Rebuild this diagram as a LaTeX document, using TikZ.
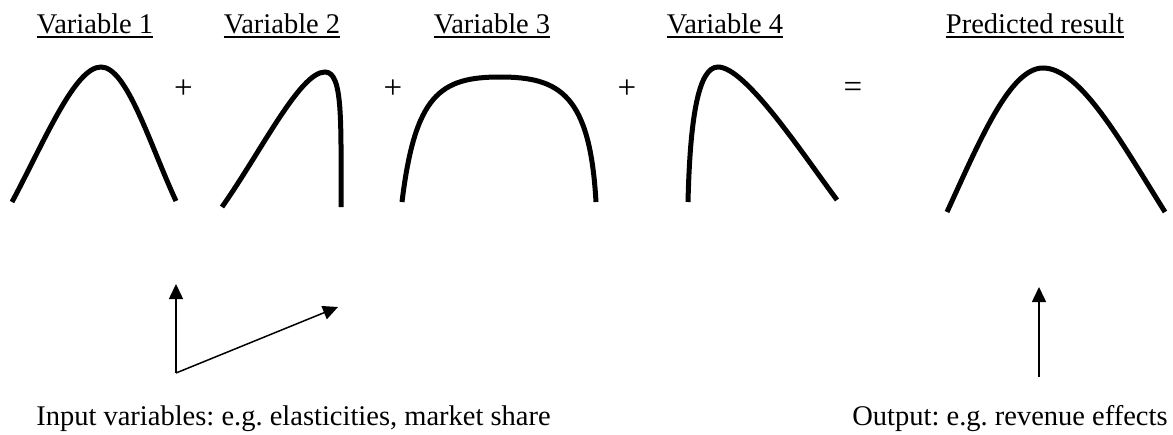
\documentclass[tikz,border=0pt]{standalone}
\usepackage{fontspec}
\setmainfont{Liberation Serif}
\usetikzlibrary{arrows.meta}
\frenchspacing
\begin{document}
\begin{tikzpicture}[x=1pt,y=-1pt,
  lbl/.style={font=\fontsize{28.5}{34}\selectfont, inner sep=0pt, anchor=base},
  op/.style={font=\fontsize{33}{38}\selectfont, inner sep=0pt},
  curve/.style={line width=5pt, line cap=butt},
  uline/.style={line width=1.6pt},
  ptr/.style={line width=1.5pt, -{Triangle[length=15pt,width=14pt]}}]
\useasboundingbox (0,0) rectangle (1173,434);
% titles
\node[lbl] (v1) at (95,33) {Variable 1};
\node[lbl] (v2) at (282,33) {Variable 2};
\node[lbl] (v3) at (492,33) {Variable 3};
\node[lbl] (v4) at (725,33) {Variable 4};
\node[lbl] (pr) at (1035,33) {Predicted result};
\foreach \n in {v1,v2,v3,v4,pr}{
  \draw[uline] ([yshift=-4pt]\n.base west) -- ([yshift=-4pt]\n.base east);
}
% operators
\node[op] (p1) at (183.5,89.5) {+};
\node[op] (p2) at (393,89.5) {+};
\node[op] (p3) at (627,89.5) {+};
\node[op] (eq) at (853,89.5) {=};
% curves
\draw[curve] (12,202) .. controls (45,140) and (75,67) .. (101,67)
  .. controls (127,67) and (150,145) .. (176,201);
\draw[curve] (222,207) .. controls (262,150) and (300,72) .. (325,72)
  .. controls (343,72) and (341,120) .. (341,207);
\draw[curve] (402,202) .. controls (415,95) and (440,77) .. (500,77)
  .. controls (560,77) and (590,95) .. (596,202);
\draw[curve] (688,202) .. controls (690,120) and (698,67) .. (718,67)
  .. controls (745,67) and (800,150) .. (837,200);
\draw[curve] (947,212) .. controls (980,140) and (1010,68) .. (1043,68)
  .. controls (1080,68) and (1120,140) .. (1165,212);
% bottom texts
\node[lbl] (in) at (293.5,425) {Input variables: e.g. elasticities, market share};
\node[lbl] (out) at (1010,425) {Output: e.g. revenue effects};
% arrows
\coordinate (a0) at (176,373);
\coordinate (a1) at (176,284);
\coordinate (a2) at (338,307);
\coordinate (b0) at (1039,377);
\coordinate (b1) at (1039,287);
\draw[ptr] (a0) -- (a1);
\draw[ptr] (a0) -- (a2);
\draw[ptr] (b0) -- (b1);
\end{tikzpicture}
\end{document}
